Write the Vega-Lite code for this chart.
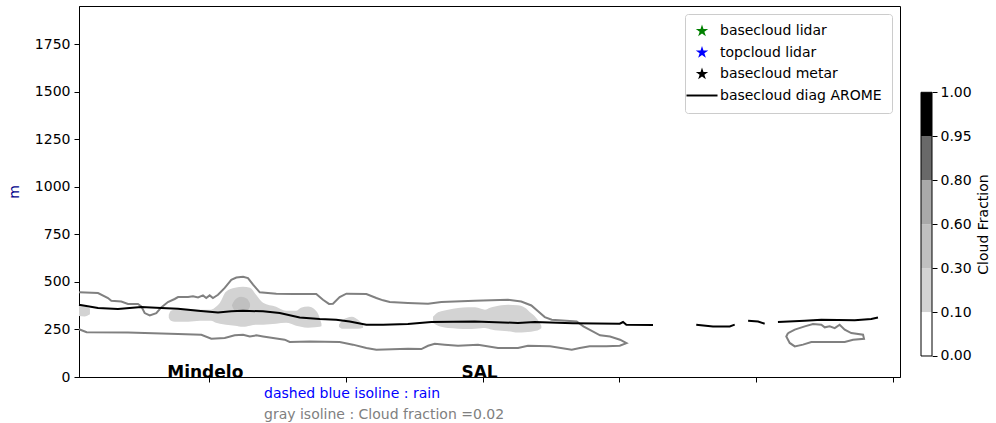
{
  "$schema": "https://vega.github.io/schema/vega-lite/v6.json",
  "padding": {"left": 6, "top": 5, "right": 2, "bottom": 0},
  "spacing": 19,
  "resolve": {"scale": {"color": "independent", "shape": "independent"}, "legend": {"color": "independent", "shape": "independent"}},
  "config": {
    "font": "DejaVu Sans",
    "view": {"stroke": "black", "strokeWidth": 1},
    "axis": {"grid": false, "domainColor": "black", "tickColor": "black", "labelColor": "black", "labelFontSize": 14, "titleFontSize": 14, "titleFontWeight": "normal", "titleColor": "black", "tickSize": 5, "labelPadding": 4},
    "legend": {"orient": "top-right", "offset": 8, "fillColor": "white", "strokeColor": "#cccccc", "cornerRadius": 3, "padding": 10, "labelFontSize": 14, "labelColor": "black", "labelLimit": 0, "symbolSize": 170, "symbolStrokeWidth": 0, "labelOffset": 11, "rowPadding": 7.5}
  },
  "datasets": {
    "contour": [
      {"k":1,"i":0,"u":5.0,"v":445},{"k":1,"i":1,"u":18.9,"v":441},{"k":1,"i":2,"u":26.2,"v":415},{"k":1,"i":3,"u":28.6,"v":401},{"k":1,"i":4,"u":35.9,"v":397},{"k":1,"i":5,"u":40.8,"v":384},{"k":1,"i":6,"u":48.1,"v":384},{"k":1,"i":7,"u":50.5,"v":371},{"k":1,"i":8,"u":53.0,"v":336},{"k":1,"i":9,"u":56.7,"v":324},
      {"k":1,"i":10,"u":61.5,"v":336},{"k":1,"i":11,"u":65.1,"v":366},{"k":1,"i":12,"u":70.0,"v":394},{"k":1,"i":13,"u":74.9,"v":410},{"k":1,"i":14,"u":77.4,"v":420},{"k":1,"i":15,"u":84.7,"v":420},{"k":1,"i":16,"u":88.3,"v":424},{"k":1,"i":17,"u":92.0,"v":418},{"k":1,"i":18,"u":95.6,"v":429},{"k":1,"i":19,"u":98.0,"v":415},
      {"k":1,"i":20,"u":100.5,"v":429},{"k":1,"i":21,"u":102.9,"v":415},{"k":1,"i":22,"u":106.6,"v":432},{"k":1,"i":23,"u":111.5,"v":468},{"k":1,"i":24,"u":116.3,"v":511},{"k":1,"i":25,"u":120.0,"v":523},{"k":1,"i":26,"u":124.9,"v":527},{"k":1,"i":27,"u":128.5,"v":520},{"k":1,"i":28,"u":132.2,"v":485},{"k":1,"i":29,"u":137.1,"v":445},
      {"k":1,"i":30,"u":149.2,"v":438},{"k":1,"i":31,"u":161.4,"v":436},{"k":1,"i":32,"u":178.4,"v":436},{"k":1,"i":33,"u":183.3,"v":406},{"k":1,"i":34,"u":187.7,"v":384},{"k":1,"i":35,"u":190.6,"v":385},{"k":1,"i":36,"u":195.5,"v":420},{"k":1,"i":37,"u":200.4,"v":438},{"k":1,"i":38,"u":215.0,"v":436},{"k":1,"i":39,"u":222.3,"v":415},
      {"k":1,"i":40,"u":227.2,"v":403},{"k":1,"i":41,"u":232.1,"v":394},{"k":1,"i":42,"u":245.4,"v":389},{"k":1,"i":43,"u":260.1,"v":385},{"k":1,"i":44,"u":269.8,"v":394},{"k":1,"i":45,"u":294.2,"v":401},{"k":1,"i":46,"u":318.5,"v":406},{"k":1,"i":47,"u":328.2,"v":397},{"k":1,"i":48,"u":335.6,"v":376},{"k":1,"i":49,"u":340.5,"v":345},
      {"k":1,"i":50,"u":345.4,"v":315},{"k":1,"i":51,"u":350.5,"v":301},{"k":1,"i":52,"u":368.7,"v":292},{"k":1,"i":53,"u":373.6,"v":266},{"k":1,"i":54,"u":385.8,"v":219},{"k":1,"i":55,"u":393.1,"v":213},{"k":1,"i":56,"u":400.4,"v":196},{"k":1,"i":57,"u":405.1,"v":178},{"k":1,"i":58,"u":400.2,"v":164},{"k":1,"i":59,"u":390.4,"v":161},
      {"k":1,"i":60,"u":378.2,"v":161},{"k":1,"i":61,"u":371.0,"v":152},{"k":1,"i":62,"u":365.1,"v":143},{"k":1,"i":63,"u":349.2,"v":161},{"k":1,"i":64,"u":333.1,"v":164},{"k":1,"i":65,"u":325.8,"v":152},{"k":1,"i":66,"u":311.2,"v":152},{"k":1,"i":67,"u":296.6,"v":170},{"k":1,"i":68,"u":282.0,"v":164},{"k":1,"i":69,"u":272.3,"v":170},
      {"k":1,"i":70,"u":265.0,"v":175},{"k":1,"i":71,"u":260.1,"v":164},{"k":1,"i":72,"u":255.2,"v":147},{"k":1,"i":73,"u":245.4,"v":149},{"k":1,"i":74,"u":222.3,"v":143},{"k":1,"i":75,"u":215.0,"v":152},{"k":1,"i":76,"u":205.2,"v":170},{"k":1,"i":77,"u":195.5,"v":184},{"k":1,"i":78,"u":173.6,"v":187},{"k":1,"i":79,"u":159.0,"v":184},
      {"k":1,"i":80,"u":155.3,"v":196},{"k":1,"i":81,"u":139.5,"v":213},{"k":1,"i":82,"u":134.6,"v":219},{"k":1,"i":83,"u":129.8,"v":213},{"k":1,"i":84,"u":124.9,"v":222},{"k":1,"i":85,"u":118.8,"v":219},{"k":1,"i":86,"u":111.5,"v":205},{"k":1,"i":87,"u":101.7,"v":201},{"k":1,"i":88,"u":94.4,"v":222},{"k":1,"i":89,"u":77.4,"v":226},
      {"k":1,"i":90,"u":40.8,"v":234},{"k":1,"i":91,"u":10.6,"v":235},{"k":1,"i":92,"u":5.0,"v":251},
      {"k":2,"i":0,"u":523.2,"v":231},{"k":2,"i":1,"u":528.1,"v":249},{"k":2,"i":2,"u":535.4,"v":266},{"k":2,"i":3,"u":541.4,"v":279},{"k":2,"i":4,"u":547.5,"v":275},{"k":2,"i":5,"u":550.0,"v":261},{"k":2,"i":6,"u":553.6,"v":266},{"k":2,"i":7,"u":557.3,"v":257},{"k":2,"i":8,"u":560.9,"v":275},{"k":2,"i":9,"u":564.6,"v":249},
      {"k":2,"i":10,"u":569.4,"v":231},{"k":2,"i":11,"u":578.0,"v":222},{"k":2,"i":12,"u":578.7,"v":201},{"k":2,"i":13,"u":570.7,"v":196},{"k":2,"i":14,"u":564.6,"v":184},{"k":2,"i":15,"u":540.2,"v":184},{"k":2,"i":16,"u":534.1,"v":170},{"k":2,"i":17,"u":528.1,"v":161},{"k":2,"i":18,"u":524.4,"v":179},{"k":2,"i":19,"u":521.9,"v":213},{"k":2,"i":20,"u":523.2,"v":231}
    ],
    "blobs": [
      {"b":"A","cf":0.2,"u":5.0,"top":375,"bot":320},{"b":"A","cf":0.2,"u":9.0,"top":372,"bot":318},{"b":"A","cf":0.2,"u":13.0,"top":360,"bot":330},
      {"b":"B","cf":0.2,"u":70.6,"top":327,"bot":312},{"b":"B","cf":0.2,"u":72.2,"top":348,"bot":296},{"b":"B","cf":0.2,"u":75.2,"top":354,"bot":291},{"b":"B","cf":0.2,"u":84.7,"top":359,"bot":291},{"b":"B","cf":0.2,"u":93.4,"top":354,"bot":296},{"b":"B","cf":0.2,"u":101.5,"top":354,"bot":296},{"b":"B","cf":0.2,"u":105.1,"top":369,"bot":285},{"b":"B","cf":0.2,"u":108.0,"top":390,"bot":280},{"b":"B","cf":0.2,"u":112.4,"top":448,"bot":275},{"b":"B","cf":0.2,"u":119.0,"top":469,"bot":270},{"b":"B","cf":0.2,"u":124.9,"top":475,"bot":264},{"b":"B","cf":0.2,"u":130.0,"top":469,"bot":270},{"b":"B","cf":0.2,"u":134.4,"top":432,"bot":275},{"b":"B","cf":0.2,"u":139.5,"top":390,"bot":275},{"b":"B","cf":0.2,"u":149.0,"top":369,"bot":280},{"b":"B","cf":0.2,"u":156.3,"top":348,"bot":285},{"b":"B","cf":0.2,"u":163.6,"top":348,"bot":270},{"b":"B","cf":0.2,"u":167.2,"top":364,"bot":264},{"b":"B","cf":0.2,"u":172.4,"top":371,"bot":259},{"b":"B","cf":0.2,"u":177.5,"top":354,"bot":262},{"b":"B","cf":0.2,"u":180.9,"top":312,"bot":264},{"b":"B","cf":0.2,"u":182.2,"top":280,"bot":267},
      {"b":"C","cf":0.45,"u":116.8,"top":378,"bot":374},{"b":"C","cf":0.45,"u":119.0,"top":406,"bot":348},{"b":"C","cf":0.45,"u":123.4,"top":422,"bot":343},{"b":"C","cf":0.45,"u":127.8,"top":411,"bot":348},{"b":"C","cf":0.45,"u":130.0,"top":385,"bot":369},
      {"b":"D","cf":0.2,"u":195.0,"top":275,"bot":264},{"b":"D","cf":0.2,"u":197.2,"top":296,"bot":254},{"b":"D","cf":0.2,"u":200.9,"top":312,"bot":254},{"b":"D","cf":0.2,"u":204.5,"top":317,"bot":254},{"b":"D","cf":0.2,"u":208.9,"top":301,"bot":254},{"b":"D","cf":0.2,"u":212.6,"top":275,"bot":259},
      {"b":"E","cf":0.2,"u":263.7,"top":317,"bot":285},{"b":"E","cf":0.2,"u":265.9,"top":333,"bot":275},{"b":"E","cf":0.2,"u":269.6,"top":345,"bot":264},{"b":"E","cf":0.2,"u":274.7,"top":354,"bot":257},{"b":"E","cf":0.2,"u":282.0,"top":363,"bot":254},{"b":"E","cf":0.2,"u":289.3,"top":366,"bot":252},{"b":"E","cf":0.2,"u":294.4,"top":366,"bot":254},{"b":"E","cf":0.2,"u":298.8,"top":359,"bot":256},{"b":"E","cf":0.2,"u":301.7,"top":354,"bot":257},{"b":"E","cf":0.2,"u":305.4,"top":364,"bot":251},{"b":"E","cf":0.2,"u":309.0,"top":371,"bot":246},{"b":"E","cf":0.2,"u":318.5,"top":380,"bot":241},{"b":"E","cf":0.2,"u":325.8,"top":377,"bot":234},{"b":"E","cf":0.2,"u":330.9,"top":364,"bot":235},{"b":"E","cf":0.2,"u":335.3,"top":336,"bot":238},{"b":"E","cf":0.2,"u":339.0,"top":312,"bot":243},{"b":"E","cf":0.2,"u":341.2,"top":291,"bot":249},{"b":"E","cf":0.2,"u":342.9,"top":270,"bot":256}
    ],
    "arome": [
      {"series":"basecloud diag AROME","seg":1,"u":5.0,"v":380},{"series":"basecloud diag AROME","seg":1,"u":18.9,"v":363},{"series":"basecloud diag AROME","seg":1,"u":33.5,"v":357},{"series":"basecloud diag AROME","seg":1,"u":50.5,"v":368},{"series":"basecloud diag AROME","seg":1,"u":65.1,"v":363},{"series":"basecloud diag AROME","seg":1,"u":77.4,"v":359},{"series":"basecloud diag AROME","seg":1,"u":92.0,"v":348},{"series":"basecloud diag AROME","seg":1,"u":106.6,"v":339},{"series":"basecloud diag AROME","seg":1,"u":116.3,"v":345},{"series":"basecloud diag AROME","seg":1,"u":124.9,"v":348},{"series":"basecloud diag AROME","seg":1,"u":139.5,"v":345},{"series":"basecloud diag AROME","seg":1,"u":151.7,"v":336},{"series":"basecloud diag AROME","seg":1,"u":166.3,"v":313},{"series":"basecloud diag AROME","seg":1,"u":180.9,"v":305},{"series":"basecloud diag AROME","seg":1,"u":193.0,"v":301},{"series":"basecloud diag AROME","seg":1,"u":202.8,"v":292},{"series":"basecloud diag AROME","seg":1,"u":215.0,"v":275},{"series":"basecloud diag AROME","seg":1,"u":227.2,"v":275},{"series":"basecloud diag AROME","seg":1,"u":245.4,"v":279},{"series":"basecloud diag AROME","seg":1,"u":262.5,"v":289},{"series":"basecloud diag AROME","seg":1,"u":294.2,"v":292},{"series":"basecloud diag AROME","seg":1,"u":325.8,"v":284},{"series":"basecloud diag AROME","seg":1,"u":338.0,"v":289},{"series":"basecloud diag AROME","seg":1,"u":366.0,"v":283},{"series":"basecloud diag AROME","seg":1,"u":400.2,"v":280},{"series":"basecloud diag AROME","seg":1,"u":402.6,"v":289},{"series":"basecloud diag AROME","seg":1,"u":405.0,"v":275},{"series":"basecloud diag AROME","seg":1,"u":424.5,"v":273},
      {"series":"basecloud diag AROME","seg":2,"u":456.1,"v":275},{"series":"basecloud diag AROME","seg":2,"u":468.3,"v":266},{"series":"basecloud diag AROME","seg":2,"u":480.6,"v":266},{"series":"basecloud diag AROME","seg":2,"u":484.2,"v":275},
      {"series":"basecloud diag AROME","seg":3,"u":494.0,"v":296},{"series":"basecloud diag AROME","seg":3,"u":501.3,"v":292},{"series":"basecloud diag AROME","seg":3,"u":506.1,"v":280},
      {"series":"basecloud diag AROME","seg":4,"u":515.8,"v":289},{"series":"basecloud diag AROME","seg":4,"u":535.4,"v":296},{"series":"basecloud diag AROME","seg":4,"u":547.5,"v":301},{"series":"basecloud diag AROME","seg":4,"u":571.9,"v":298},{"series":"basecloud diag AROME","seg":4,"u":584.0,"v":305},{"series":"basecloud diag AROME","seg":4,"u":588.9,"v":313}
    ],
    "labels": [
      {"kind":"site","u":69.5,"v":-3,"label":"Mindelo"},
      {"kind":"site","u":284.5,"v":-3,"label":"SAL"},
      {"kind":"rain","u":140.2,"v":-110,"label":"dashed blue isoline : rain"},
      {"kind":"gray","u":140.2,"v":-222,"label":"gray isoline : Cloud fraction =0.02"}
    ],
    "bar": [
      {"b0":0,"b1":1,"cf":0.05},{"b0":1,"b1":2,"cf":0.2},{"b0":2,"b1":3,"cf":0.45},{"b0":3,"b1":4,"cf":0.7},{"b0":4,"b1":5,"cf":0.875},{"b0":5,"b1":6,"cf":0.975}
    ]
  },
  "hconcat": [
    {
      "width": 821,
      "height": 371,
      "layer": [
        {
          "data": {"name": "blobs"},
          "mark": {"type": "area", "interpolate": "monotone"},
          "encoding": {
            "x": {"field": "u", "type": "quantitative", "scale": {"domain": [5, 605], "nice": false, "zero": false}, "axis": {"values": [100, 200, 300, 400, 500, 600], "labels": false, "title": null, "tickSize": 5}},
            "y": {"field": "top", "type": "quantitative", "scale": {"domain": [0, 1950], "nice": false, "zero": false}, "axis": {"values": [0, 250, 500, 750, 1000, 1250, 1500, 1750], "format": "d", "title": "m", "titleColor": "#00008b", "titlePadding": 13}},
            "y2": {"field": "bot"},
            "fill": {"field": "cf", "type": "quantitative", "scale": {"type": "threshold", "domain": [0.1, 0.3, 0.6, 0.8, 0.95], "range": ["#ffffff", "#d3d3d3", "#c0c0c0", "#a9a9a9", "#696969", "#000000"]}, "legend": null},
            "detail": {"field": "b"}
          }
        },
        {
          "data": {"name": "contour"},
          "mark": {"type": "line", "color": "#808080", "strokeWidth": 2},
          "encoding": {
            "x": {"field": "u", "type": "quantitative"},
            "y": {"field": "v", "type": "quantitative"},
            "detail": {"field": "k"},
            "order": {"field": "i"}
          }
        },
        {
          "data": {"name": "arome"},
          "mark": {"type": "line", "strokeWidth": 2, "color": "black"},
          "encoding": {
            "x": {"field": "u", "type": "quantitative"},
            "y": {"field": "v", "type": "quantitative"},
            "detail": {"field": "seg"}
          }
        },
        {
          "data": {"name": "arome"},
          "transform": [{"filter": "datum.seg > 99"}],
          "mark": {"type": "point", "filled": true, "opacity": 1},
          "encoding": {
            "x": {"field": "u", "type": "quantitative"},
            "y": {"field": "v", "type": "quantitative"},
            "color": {
              "field": "series",
              "type": "nominal",
              "scale": {"domain": ["basecloud lidar", "topcloud lidar", "basecloud metar", "basecloud diag AROME"], "range": ["#008000", "#0000ff", "#000000", "#000000"]},
              "legend": {"title": null}
            },
            "shape": {
              "field": "series",
              "type": "nominal",
              "scale": {"domain": ["basecloud lidar", "topcloud lidar", "basecloud metar", "basecloud diag AROME"], "range": ["M0,-1L0.225,-0.309L0.951,-0.309L0.363,0.118L0.588,0.809L0,0.382L-0.588,0.809L-0.363,0.118L-0.951,-0.309L-0.225,-0.309Z", "M0,-1L0.225,-0.309L0.951,-0.309L0.363,0.118L0.588,0.809L0,0.382L-0.588,0.809L-0.363,0.118L-0.951,-0.309L-0.225,-0.309Z", "M0,-1L0.225,-0.309L0.951,-0.309L0.363,0.118L0.588,0.809L0,0.382L-0.588,0.809L-0.363,0.118L-0.951,-0.309L-0.225,-0.309Z", "M-2.38,-0.15H2.38V0.15H-2.38Z"]},
              "legend": {"title": null}
            }
          }
        },
        {
          "data": {"name": "labels"},
          "transform": [{"filter": "datum.kind === 'site'"}],
          "mark": {"type": "text", "fontWeight": "bold", "fontSize": 17, "align": "left", "baseline": "alphabetic", "color": "black"},
          "encoding": {
            "x": {"field": "u", "type": "quantitative"},
            "y": {"field": "v", "type": "quantitative"},
            "text": {"field": "label"}
          }
        },
        {
          "data": {"name": "labels"},
          "transform": [{"filter": "datum.kind === 'rain'"}],
          "mark": {"type": "text", "fontSize": 14, "align": "left", "baseline": "alphabetic", "color": "#0000ff"},
          "encoding": {
            "x": {"field": "u", "type": "quantitative"},
            "y": {"field": "v", "type": "quantitative"},
            "text": {"field": "label"}
          }
        },
        {
          "data": {"name": "labels"},
          "transform": [{"filter": "datum.kind === 'gray'"}],
          "mark": {"type": "text", "fontSize": 14, "align": "left", "baseline": "alphabetic", "color": "#808080"},
          "encoding": {
            "x": {"field": "u", "type": "quantitative"},
            "y": {"field": "v", "type": "quantitative"},
            "text": {"field": "label"}
          }
        }
      ]
    },
    {
      "width": 11,
      "height": 371,
      "view": {"stroke": null},
      "data": {"name": "bar"},
      "layer": [
        {
          "mark": {"type": "rect"},
          "encoding": {
            "y": {"field": "b0", "type": "quantitative", "scale": {"domain": [-0.478, 7.964], "nice": false, "zero": false}, "axis": {"orient": "right", "values": [0, 1, 2, 3, 4, 5, 6], "labelExpr": "['0.00','0.10','0.30','0.60','0.80','0.95','1.00'][datum.value]", "domain": false, "title": "Cloud Fraction", "titleAngle": 270, "titleBaseline": "top", "titleY": 218, "titleAlign": "center", "titlePadding": 5, "labelPadding": 3}},
            "y2": {"field": "b1"},
            "fill": {"field": "cf", "type": "quantitative", "scale": {"type": "threshold", "domain": [0.1, 0.3, 0.6, 0.8, 0.95], "range": ["#ffffff", "#d3d3d3", "#c0c0c0", "#a9a9a9", "#696969", "#000000"]}, "legend": null}
          }
        },
        {
          "mark": {"type": "rect", "filled": false, "stroke": "black", "strokeWidth": 1},
          "encoding": {
            "y": {"aggregate": "min", "field": "b0", "type": "quantitative"},
            "y2": {"aggregate": "max", "field": "b1"}
          }
        }
      ]
    }
  ]
}
